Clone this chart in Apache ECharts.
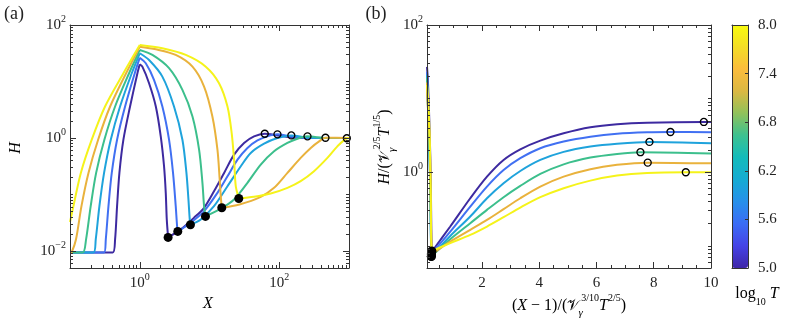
<!DOCTYPE html>
<html>
<head>
<meta charset="utf-8">
<script src="https://cdn.jsdelivr.net/npm/echarts@6/dist/echarts.min.js"></script>
<style>
html, body { margin: 0; padding: 0; background: #fff; }
#chart { width: 790px; height: 320px; }
</style>
</head>
<body>
<div id="chart"></div>
<script>
// log10 T of the six curves (dark blue -> yellow)
const logT = [5.0, 5.6, 6.2, 6.8, 7.4, 8.0];
const lineColors = ['#3d2aa0', '#4170f2', '#1fa3dc', '#3cbf8c', '#e9b23c', '#f5f31a'];

// panel (a): H vs X, one list per curve, split at the peak and at the filled dot
const aRise = [
  [[0.1, 0.0094], [0.41, 0.0094], [0.443, 0.0161], [0.473, 0.0622], [0.511, 0.241], [0.583, 0.933], [0.726, 3.61], [0.926, 14.0], [1, 20.2]],
  [[0.1, 0.0094], [0.308, 0.0094], [0.326, 0.0161], [0.356, 0.0622], [0.397, 0.241], [0.473, 0.933], [0.616, 3.61], [0.848, 14.0], [1, 26.4]],
  [[0.1, 0.0094], [0.217, 0.0094], [0.234, 0.0161], [0.264, 0.0622], [0.308, 0.241], [0.384, 0.933], [0.522, 3.61], [0.768, 14.0], [1, 31.6]],
  [[0.1, 0.0094], [0.152, 0.0094], [0.170, 0.0161], [0.198, 0.0622], [0.237, 0.241], [0.311, 0.933], [0.443, 3.61], [0.703, 14.0], [1, 36.1]],
  [[0.1, 0.0094], [0.106, 0.0096], [0.122, 0.0161], [0.146, 0.0622], [0.184, 0.241], [0.253, 0.933], [0.376, 3.61], [0.637, 14.0], [1, 41.3]],
  [[0.1, 0.0325], [0.112, 0.0622], [0.143, 0.241], [0.205, 0.933], [0.318, 3.61], [0.583, 14.0], [1, 44.2]]
];
const aFall = [
  [[1, 20.2], [1.09, 18.3], [1.36, 9.33], [1.70, 3.61], [2.0, 1.07], [2.23, 0.316], [2.36, 0.107], [2.44, 0.0362], [2.55, 0.0174]],
  [[1, 26.4], [1.22, 21.0], [1.60, 10.7], [2.11, 3.61], [2.63, 0.933], [3.0, 0.241], [3.28, 0.0622], [3.43, 0.0276], [3.51, 0.0222]],
  [[1, 31.6], [1.36, 24.0], [2.11, 12.2], [3.10, 3.61], [4.09, 0.933], [4.67, 0.241], [4.99, 0.0816], [5.21, 0.0362], [5.33, 0.0292]],
  [[1, 36.1], [1.52, 29.5], [2.63, 17.2], [4.09, 7.11], [5.70, 2.40], [7.09, 0.622], [7.92, 0.161], [8.36, 0.0622], [8.75, 0.0409]],
  [[1, 41.3], [1.70, 37.1], [3.28, 29.5], [5.70, 18.3], [8.36, 8.13], [11.0, 2.40], [13.0, 0.622], [14.0, 0.184], [14.5, 0.0933], [15.0, 0.0582]],
  [[1, 44.2], [2.11, 38.7], [4.57, 29.5], [8.84, 18.3], [13.7, 9.33], [18.1, 3.61], [20.8, 1.22], [22.5, 0.414], [23.8, 0.140], [26.3, 0.085]]
];
const aTail = [
  [[2.55, 0.0174], [3.87, 0.0241], [6.0, 0.0388], [8.36, 0.0582], [11.6, 0.114], [16.2, 0.241], [22.5, 0.508], [31.3, 0.816], [43.5, 1.07], [62.0, 1.19], [94.3, 1.11], [163, 1.01], [1000, 1.0]],
  [[3.51, 0.0222], [5.39, 0.0317], [8.36, 0.0508], [13.0, 0.107], [18.1, 0.210], [25.2, 0.414], [35.0, 0.667], [48.7, 0.907], [67.7, 1.07], [94.2, 1.16], [146, 1.07], [254, 1.0], [1000, 1.0]],
  [[5.33, 0.0292], [7.5, 0.0362], [11.6, 0.0622], [18.1, 0.140], [28.1, 0.316], [39.0, 0.544], [60.6, 0.793], [94.2, 1.0], [149, 1.11], [254, 1.02], [1000, 1.0]],
  [[8.75, 0.0409], [14.5, 0.056], [22.5, 0.0816], [35.0, 0.161], [54.3, 0.338], [84.3, 0.581], [131, 0.816], [182, 0.97], [254, 1.07], [460, 1.0], [1000, 1.0]],
  [[15.0, 0.0582], [26.9, 0.0666], [54.3, 0.091], [84.3, 0.131], [131, 0.241], [203, 0.444], [283, 0.667], [373, 0.871], [460, 1.01], [1000, 1.0]],
  [[26.3, 0.085], [43.5, 0.091], [75.5, 0.104], [131, 0.131], [203, 0.172], [315, 0.258], [490, 0.444], [681, 0.711], [931, 0.99], [1000, 1.0]]
];
const aFilled = [[2.55, 0.0174], [3.51, 0.0222], [5.33, 0.0292], [8.75, 0.0409], [15.0, 0.0582], [26.3, 0.085]];
const aOpen = [[62.0, 1.19], [94.2, 1.16], [149, 1.11], [254, 1.07], [460, 1.01], [931, 0.99]];

// panel (b): rescaled H vs rescaled X-1
const bFall = [
  [[0.08, 27], [0.112, 17.3], [0.16, 5.1], [0.197, 1.51], [0.218, 0.51], [0.23, 0.173], [0.248, 0.0832]],
  [[0.08, 23], [0.102, 12.5], [0.15, 3.24], [0.184, 0.836], [0.21, 0.216], [0.224, 0.096], [0.231, 0.0776]],
  [[0.08, 21], [0.11, 8.8], [0.164, 2.29], [0.195, 0.59], [0.212, 0.2], [0.224, 0.089], [0.23, 0.0716]],
  [[0.08, 19], [0.092, 12.5], [0.14, 4.22], [0.181, 1.09], [0.206, 0.283], [0.219, 0.109], [0.231, 0.0719]],
  [[0.08, 16.5], [0.091, 10.6], [0.169, 3.14], [0.203, 0.815], [0.22, 0.24], [0.228, 0.122], [0.237, 0.0764]],
  [[0.08, 15.3], [0.124, 9.33], [0.168, 3.61], [0.194, 1.22], [0.211, 0.414], [0.224, 0.14], [0.248, 0.0851]]
];
const bTail = [
  [[0.248, 0.0832], [0.892, 0.183], [1.591, 0.443], [2.175, 0.871], [2.755, 1.47], [3.339, 2.05], [4.038, 2.69], [4.853, 3.38], [5.787, 4.08], [6.72, 4.49], [7.769, 4.71], [9.75, 4.82], [10, 4.82]],
  [[0.231, 0.0776], [0.892, 0.156], [1.591, 0.341], [2.175, 0.638], [2.755, 1.07], [3.339, 1.55], [4.038, 2.12], [4.853, 2.61], [5.787, 3.04], [6.72, 3.34], [7.769, 3.49], [8.584, 3.52], [10, 3.49]],
  [[0.23, 0.0716], [0.892, 0.136], [1.591, 0.250], [2.175, 0.443], [2.755, 0.709], [3.339, 1.04], [4.038, 1.47], [4.853, 1.89], [5.787, 2.23], [6.72, 2.44], [7.85, 2.58], [10, 2.48]],
  [[0.231, 0.0719], [0.892, 0.123], [1.591, 0.203], [2.175, 0.308], [2.755, 0.458], [3.339, 0.652], [4.038, 0.948], [4.853, 1.28], [5.787, 1.58], [6.72, 1.77], [7.535, 1.87], [10, 1.79]],
  [[0.237, 0.0764], [0.892, 0.114], [1.591, 0.165], [2.175, 0.225], [2.755, 0.315], [3.339, 0.443], [4.038, 0.638], [4.853, 0.871], [5.787, 1.10], [6.72, 1.26], [7.79, 1.35], [10, 1.32]],
  [[0.248, 0.0851], [0.892, 0.109], [1.591, 0.141], [2.175, 0.183], [2.755, 0.245], [3.339, 0.331], [4.038, 0.458], [4.853, 0.607], [5.787, 0.769], [6.72, 0.90], [7.769, 0.977], [9.12, 1.0], [10, 1.0]]
];
const bFilled = [[0.248, 0.0832], [0.231, 0.0776], [0.23, 0.0716], [0.231, 0.0719], [0.237, 0.0764], [0.248, 0.0851]];
const bOpen = [[9.75, 4.82], [8.584, 3.52], [7.85, 2.58], [7.535, 1.87], [7.79, 1.35], [9.12, 1.0]];

// tick positions
const aXMajor = [1, 100];
const aYMajor = [0.01, 1, 100];
const bXMajor = [2, 4, 6, 8, 10];
const bXMinor = [0.5, 1, 1.5, 2.5, 3, 3.5, 4.5, 5, 5.5, 6.5, 7, 7.5, 8.5, 9, 9.5];
const bYMajor = [1, 100];
const cbTicks = [5.0, 5.6, 6.2, 6.8, 7.4, 8.0];

// parula-like colour map for the colour bar
const parula = ['#3e26a8', '#4543e6', '#3b6cf5', '#2790ea', '#15abd3', '#13bbbb', '#3cc190', '#90c15a', '#dbb842', '#fbbc3c', '#f3dd26', '#f9fb0e'];

const AX = '#333';
const TXT = '#222';
const FONT = 'Liberation Serif';

// k*10^n ticks inside [lo, hi], skipping the major ones
function logMinor(lo, hi, major) {
  const out = [];
  for (let n = -4; n <= 4; n++) {
    for (let k = 1; k <= 9; k++) {
      const v = +(k * Math.pow(10, n)).toPrecision(3);
      if (v >= lo * 0.999 && v <= hi * 1.001 && major.indexOf(v) < 0) out.push(v);
    }
  }
  return out;
}

const powRich = {
  b: { fontFamily: FONT, fontSize: 15, lineHeight: 22, color: TXT },
  s: { fontFamily: FONT, fontSize: 10, lineHeight: 12, verticalAlign: 'top', color: TXT }
};
function powLabel(v) {
  const e = Math.round(Math.log10(v));
  return '{b|10}{s|' + (e < 0 ? '\u2212' + (-e) : e) + '}';
}

// four axes per side pair: labelled major, minor, mirrored major, mirrored minor
function frame(dim, grid, type, min, max, major, minor, label) {
  const pos = dim === 'x' ? ['bottom', 'top'] : ['left', 'right'];
  const list = [];
  pos.forEach((p, k) => {
    [major, minor].forEach((ticks, j) => {
      list.push({
        gridIndex: grid, type: type, logBase: 10, min: min, max: max, position: p,
        axisLine: { show: j === 0, onZero: false, lineStyle: { color: AX, width: 1 } },
        axisTick: { show: true, inside: true, length: j === 0 ? 6 : 3, customValues: ticks, lineStyle: { color: AX, width: 1 } },
        axisLabel: (k === 0 && j === 0) ? Object.assign({ show: true, customValues: major }, label) : { show: false },
        splitLine: { show: false },
        minorTick: { show: false },
        z: 5
      });
    });
  });
  return list;
}

const xAxes = [].concat(
  frame('x', 0, 'log', 0.1, 1000, aXMajor, logMinor(0.1, 1000, aXMajor), { margin: 4, formatter: powLabel, rich: powRich }),
  frame('x', 1, 'value', 0.08, 10, bXMajor, bXMinor, { margin: 4, fontFamily: FONT, fontSize: 15, lineHeight: 22, color: TXT }),
  [
    { gridIndex: 2, type: 'value', min: 0, max: 1, position: 'bottom', axisLine: { onZero: false, lineStyle: { color: AX } }, axisTick: { show: false }, axisLabel: { show: false }, splitLine: { show: false }, z: 6 },
    { gridIndex: 2, type: 'value', min: 0, max: 1, position: 'top', axisLine: { onZero: false, lineStyle: { color: AX } }, axisTick: { show: false }, axisLabel: { show: false }, splitLine: { show: false }, z: 6 }
  ]
);
const yAxes = [].concat(
  frame('y', 0, 'log', 0.005, 100, aYMajor, logMinor(0.005, 100, aYMajor), { margin: 4, formatter: powLabel, rich: powRich }),
  frame('y', 1, 'log', 0.05, 100, bYMajor, logMinor(0.05, 100, bYMajor), { margin: 4, formatter: powLabel, rich: powRich }),
  [
    { gridIndex: 2, type: 'value', min: 5, max: 8, position: 'right',
      axisLine: { onZero: false, lineStyle: { color: AX } },
      axisTick: { show: true, inside: true, length: 3, customValues: cbTicks, lineStyle: { color: AX } },
      axisLabel: { customValues: cbTicks, margin: 10, fontFamily: FONT, fontSize: 15, color: TXT, formatter: v => v.toFixed(1) },
      splitLine: { show: false }, z: 6 },
    { gridIndex: 2, type: 'value', min: 5, max: 8, position: 'left', axisLine: { onZero: false, lineStyle: { color: AX } }, axisTick: { show: false }, axisLabel: { show: false }, splitLine: { show: false }, z: 6 }
  ]
);

function lineS(xi, yi, data, color) {
  return {
    type: 'line', xAxisIndex: xi, yAxisIndex: yi, data: data,
    showSymbol: false, smooth: 0.3, silent: true,
    lineStyle: { color: color, width: 2 }
  };
}
function dots(xi, yi, data, filled) {
  return {
    type: 'scatter', xAxisIndex: xi, yAxisIndex: yi, data: data, z: 4, silent: true,
    symbol: 'circle', symbolSize: filled ? 9 : 7,
    itemStyle: filled ? { color: '#000', opacity: 1 } : { color: 'rgba(0,0,0,0)', borderColor: '#000', borderWidth: 1.3, opacity: 1 }
  };
}

const series = [];
for (let i = 0; i < logT.length; i++) {
  series.push(lineS(0, 0, aRise[i], lineColors[i]));
  series.push(lineS(0, 0, aFall[i], lineColors[i]));
  series.push(lineS(0, 0, aTail[i], lineColors[i]));
}
for (let i = 0; i < logT.length; i++) {
  series.push(lineS(4, 4, bFall[i], lineColors[i]));
  series.push(lineS(4, 4, bTail[i], lineColors[i]));
}
series.push(dots(0, 0, aFilled, true), dots(0, 0, aOpen, false));
series.push(dots(4, 4, bFilled, true), dots(4, 4, bOpen, false));

const titleRich = {
  i: { fontFamily: FONT, fontStyle: 'italic', fontSize: 16, lineHeight: 26, color: TXT },
  n: { fontFamily: FONT, fontSize: 16, lineHeight: 26, color: TXT },
  v: { fontFamily: 'DejaVu Serif', fontSize: 15, lineHeight: 26, color: TXT },
  sb: { fontFamily: FONT, fontStyle: 'italic', fontSize: 11, lineHeight: 12, verticalAlign: 'bottom', width: 1, color: TXT },
  sp: { fontFamily: FONT, fontSize: 10, lineHeight: 12, verticalAlign: 'top', color: TXT }
};

const chart = echarts.init(document.getElementById('chart'), null, { renderer: 'canvas' });
chart.setOption({
  animation: false,
  backgroundColor: '#fff',
  grid: [
    { left: 70, top: 25, width: 279, height: 243, containLabel: false, outerBoundsMode: 'none' },
    { left: 427, top: 25, width: 284, height: 243, containLabel: false, outerBoundsMode: 'none' },
    { left: 732, top: 25, width: 16, height: 243, containLabel: false, outerBoundsMode: 'none' }
  ],
  xAxis: xAxes,
  yAxis: yAxes,
  visualMap: {
    type: 'continuous', min: 5, max: 8, left: 732, top: 25, itemWidth: 16, itemHeight: 243,
    padding: 0, calculable: false, hoverLink: false, seriesIndex: [], orient: 'vertical',
    inRange: { color: parula }
  },
  series: series,
  graphic: [
    { type: 'text', x: 14, y: 14, silent: true, style: { text: '(a)', fontFamily: FONT, fontSize: 18, fill: TXT, align: 'center', verticalAlign: 'middle' } },
    { type: 'text', x: 376, y: 14, silent: true, style: { text: '(b)', fontFamily: FONT, fontSize: 18, fill: TXT, align: 'center', verticalAlign: 'middle' } },
    { type: 'text', x: 16, y: 148, rotation: Math.PI / 2, silent: true, style: { text: '{i|H}', rich: titleRich, align: 'center', verticalAlign: 'middle' } },
    { type: 'text', x: 208, y: 304, silent: true, style: { text: '{i|X}', rich: titleRich, align: 'center', verticalAlign: 'middle' } },
    { type: 'text', x: 385, y: 147, rotation: Math.PI / 2, silent: true,
      style: { text: '{i|H}{n|/(}{v|\ud835\udcb1}{sb|\u03b3}{sp|2/5}{i|T}{sp|1/5}{n|)}', rich: titleRich, align: 'center', verticalAlign: 'middle' } },
    { type: 'text', x: 569, y: 306, silent: true,
      style: { text: '{n|(}{i|X}{n| \u2212 1)/(}{v|\ud835\udcb1}{sb|\u03b3}{sp|3/10}{i|T}{sp|2/5}{n|)}', rich: titleRich, align: 'center', verticalAlign: 'middle' } },
    { type: 'text', x: 757, y: 294, silent: true,
      style: { text: '{n|log}{lb|10}{i| T}', rich: Object.assign({ lb: { fontFamily: FONT, fontSize: 10, lineHeight: 12, verticalAlign: 'bottom', color: TXT } }, titleRich), align: 'center', verticalAlign: 'middle' } }
  ]
});
</script>
</body>
</html>
